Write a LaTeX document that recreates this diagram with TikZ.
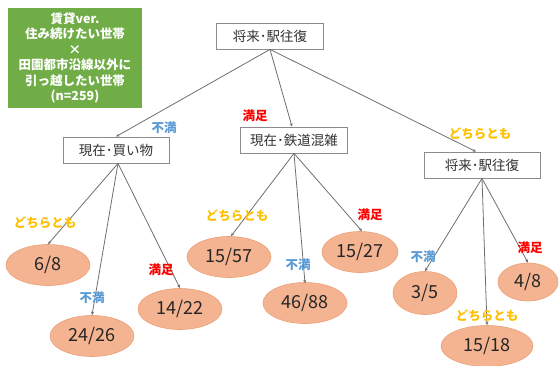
\documentclass[tikz,border=0pt]{standalone}
\usepackage{fontspec}
\newfontfamily\cjk{Noto Sans CJK JP}
\usetikzlibrary{shapes.geometric,arrows.meta}
\definecolor{grn}{RGB}{112,173,71}
\definecolor{salmon}{RGB}{245,180,145}
\definecolor{salmonb}{RGB}{235,160,120}
\definecolor{lblue}{RGB}{91,155,213}
\definecolor{lred}{RGB}{255,0,0}
\definecolor{lyel}{RGB}{255,192,0}
\definecolor{edge}{RGB}{110,110,110}
\tikzset{
  qbox/.style={draw=edge!80, line width=0.8pt, fill=white, minimum height=26pt, inner xsep=0pt, font=\cjk\fontsize{13.5}{15}\selectfont, text=black!80},
  leaf/.style={ellipse, draw=salmonb, line width=0.6pt, fill=salmon, inner sep=0pt, minimum width=84pt, minimum height=41pt, text=black!85, font=\cjk\fontsize{18}{20}\selectfont},
  conn/.style={draw=edge, line width=0.8pt, -{Stealth[length=3.5pt,width=3pt]}},
  lb/.style={font=\cjk\bfseries\fontsize{12.5}{14}\selectfont, text=lblue},
  lr/.style={font=\cjk\bfseries\fontsize{12.5}{14}\selectfont, text=lred},
  ly/.style={font=\cjk\bfseries\fontsize{12.5}{14}\selectfont, text=lyel},
}
\begin{document}
\begin{tikzpicture}[x=1pt,y=-1pt]
\useasboundingbox (0,0) rectangle (560,365);
% info box
\node[fill=grn, minimum width=134pt, minimum height=100pt, inner sep=0pt, text=white, align=center, font=\cjk\bfseries\fontsize{12.5}{15.5}\selectfont] (info) at (75,58)
 {賃貸ver.\\住み続けたい世帯\\×\\田園都市沿線以外に\\引っ越したい世帯\\(n=259)};
% decision boxes
\node[qbox, minimum width=107pt] (root) at (270,36) {将来･駅往復};
\node[qbox, minimum width=106pt] (shop) at (116,150) {現在･買い物};
\node[qbox, minimum width=107pt] (rail) at (294,140) {現在･鉄道混雑};
\node[qbox, minimum width=116pt] (fut) at (482,165) {将来･駅往復};
% leaves
\node[leaf] (l1) at (48,265) {6/8};
\node[leaf] (l2) at (92,336) {24/26};
\node[leaf] (l3) at (180,309) {14/22};
\node[leaf] (l4) at (229,257) {15/57};
\node[leaf] (l5) at (305,303) {46/88};
\node[leaf, minimum width=76pt] (l6) at (360,252) {15/27};
\node[leaf, minimum width=64pt, minimum height=43pt] (l7) at (425,293) {3/5};
\node[leaf, minimum width=60pt, minimum height=38pt] (l8) at (528,282) {4/8};
\node[leaf, minimum width=92pt] (l9) at (487,346) {15/18};
% connectors
\draw[conn] (root.south) -- (shop.north);
\draw[conn] (root.south) -- ([xshift=-2pt]rail.north);
\draw[conn] (root.south) -- ([xshift=-6pt]fut.north);
\draw[conn] ([xshift=2pt]shop.south) -- (l1.north);
\draw[conn] ([xshift=2pt]shop.south) -- (l2.north);
\draw[conn] ([xshift=2pt]shop.south) -- (l3.north);
\draw[conn] (rail.south) -- ([xshift=2pt]l4.north);
\draw[conn] (rail.south) -- ([yshift=-1pt]l5.north);
\draw[conn] (rail.south) -- ([xshift=2pt]l6.north);
\draw[conn] (fut.south) -- (l7.north);
\draw[conn] (fut.south) -- (l9.north);
\draw[conn] (fut.south) -- (l8.north);
% labels
\node[lb] (t1) at (164,128) {不満};
\node[lr] (t2) at (255,116) {満足};
\node[ly] (t3) at (480,134) {どちらとも};
\node[ly] (t4) at (45,223) {どちらとも};
\node[lb] (t5) at (92,298) {不満};
\node[lr] (t6) at (161,270) {満足};
\node[ly] (t7) at (237,216) {どちらとも};
\node[lb] (t8) at (298,265) {不満};
\node[lr] (t9) at (370,215) {満足};
\node[lb] (t10) at (423,257) {不満};
\node[lr] (t11) at (530,248) {満足};
\node[ly] (t12) at (487,316) {どちらとも};
\end{tikzpicture}
\end{document}
